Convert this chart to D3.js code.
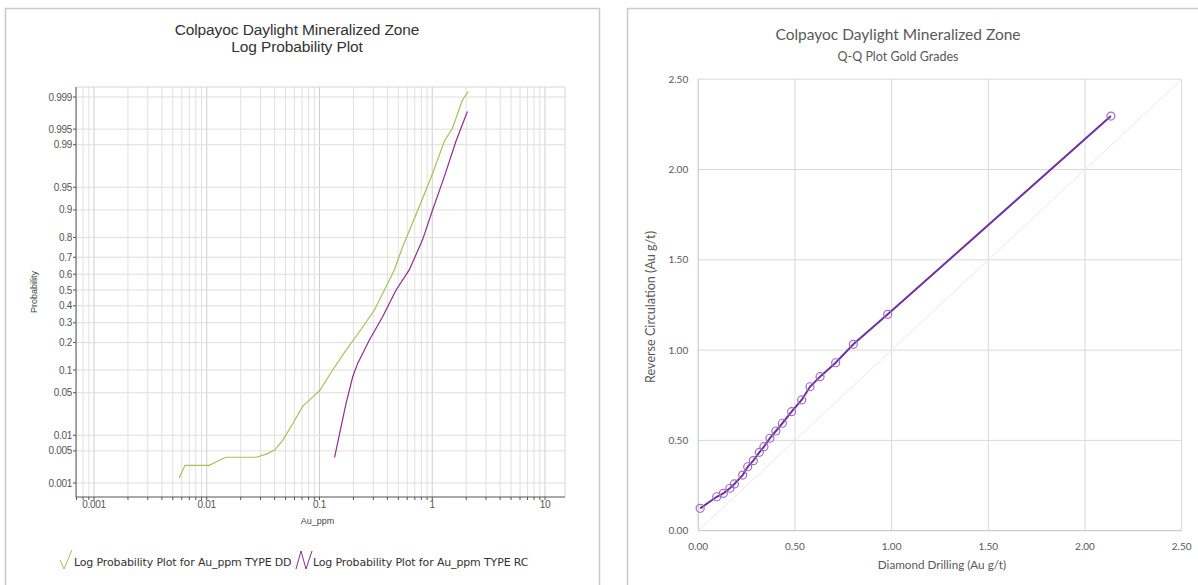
<!DOCTYPE html>
<html>
<head>
<meta charset="utf-8">
<script src="https://cdn.jsdelivr.net/npm/d3@7"></script>
<style>
  html, body { margin: 0; padding: 0; background: #fff; }
  svg { display: block; }
</style>
</head>
<body>
<svg id="chart" width="1198" height="585"></svg>
<script>
// ---------------- DATA ----------------
// Left chart: log probability plot
const ddAu   = [0.0057, 0.0064, 0.0105, 0.0126, 0.0147, 0.0275, 0.0337, 0.040, 0.0473, 0.058, 0.0711, 0.0845, 0.100, 0.131, 0.172, 0.226, 0.307, 0.389, 0.461, 0.546, 0.767, 1.007, 1.277, 1.51, 1.855, 2.09];
const ddProb = [0.0013, 0.0025, 0.0025, 0.0031, 0.0037, 0.0037, 0.0043, 0.0052, 0.0081, 0.0163, 0.0315, 0.0413, 0.0533, 0.100, 0.168, 0.252, 0.374, 0.521, 0.626, 0.756, 0.909, 0.969, 0.9913, 0.9952, 0.99884, 0.99926];
const rcAu   = [0.136, 0.172, 0.197, 0.218, 0.277, 0.363, 0.478, 0.625, 0.82, 1.007, 1.277, 1.62, 2.05];
const rcProb = [0.0037, 0.0347, 0.0824, 0.120, 0.2115, 0.334, 0.500, 0.626, 0.789, 0.900, 0.965, 0.9913, 0.99786];
const probTicks  = [0.999, 0.995, 0.99, 0.95, 0.9, 0.8, 0.7, 0.6, 0.5, 0.4, 0.3, 0.2, 0.1, 0.05, 0.01, 0.005, 0.001];
const probLabels = ["0.999", "0.995", "0.99", "0.95", "0.9", "0.8", "0.7", "0.6", "0.5", "0.4", "0.3", "0.2", "0.1", "0.05", "0.01", "0.005", "0.001"];
const auTicks  = [0.001, 0.01, 0.1, 1, 10];
const auLabels = ["0.001", "0.01", "0.1", "1", "10"];
const legendLabels = ["Log Probability Plot for Au_ppm TYPE DD", "Log Probability Plot for Au_ppm TYPE RC"];

// Right chart: Q-Q plot
const qqDD = [0.01, 0.096, 0.130, 0.164, 0.187, 0.230, 0.256, 0.285, 0.316, 0.340, 0.371, 0.402, 0.435, 0.483, 0.535, 0.578, 0.630, 0.711, 0.802, 0.980, 2.134];
const qqRC = [0.124, 0.188, 0.207, 0.235, 0.259, 0.308, 0.354, 0.388, 0.434, 0.465, 0.512, 0.552, 0.595, 0.659, 0.724, 0.797, 0.853, 0.930, 1.032, 1.198, 2.296];
const qqTicks = [0, 0.5, 1.0, 1.5, 2.0, 2.5];

// ---------------- HELPERS ----------------
// inverse standard normal CDF (Acklam)
function probit(p) {
  const a = [-3.969683028665376e+01, 2.209460984245205e+02, -2.759285104469687e+02, 1.383577518672690e+02, -3.066479806614716e+01, 2.506628277459239e+00];
  const b = [-5.447609879822406e+01, 1.615858368580409e+02, -1.556989798598866e+02, 6.680131188771972e+01, -1.328068155288572e+01];
  const c = [-7.784894002430293e-03, -3.223964580411365e-01, -2.400758277161838e+00, -2.549732539343734e+00, 4.374664141464968e+00, 2.938163982698783e+00];
  const d = [7.784695709041462e-03, 3.224671290700398e-01, 2.445134137142996e+00, 3.754408661907416e+00];
  const pl = 0.02425, ph = 1 - pl;
  let q, r;
  if (p < pl) {
    q = Math.sqrt(-2 * Math.log(p));
    return (((((c[0]*q+c[1])*q+c[2])*q+c[3])*q+c[4])*q+c[5]) / ((((d[0]*q+d[1])*q+d[2])*q+d[3])*q+1);
  } else if (p <= ph) {
    q = p - 0.5; r = q*q;
    return (((((a[0]*r+a[1])*r+a[2])*r+a[3])*r+a[4])*r+a[5])*q / (((((b[0]*r+b[1])*r+b[2])*r+b[3])*r+b[4])*r+1);
  } else {
    q = Math.sqrt(-2 * Math.log(1 - p));
    return -(((((c[0]*q+c[1])*q+c[2])*q+c[3])*q+c[4])*q+c[5]) / ((((d[0]*q+d[1])*q+d[2])*q+d[3])*q+1);
  }
}

const svg = d3.select("#chart");

// ================= LEFT PANEL =================
const leftFont = "'Liberation Sans', Arial, sans-serif";
svg.append("rect").attr("x", 5.5).attr("y", 8.5).attr("width", 594).attr("height", 600)
  .attr("fill", "#fff").attr("stroke", "#c9c9c9").attr("stroke-width", 1.5);

svg.append("text").attr("x", 297).attr("y", 35).attr("text-anchor", "middle")
  .attr("font-family", leftFont).attr("font-size", 15.5).attr("fill", "#333")
  .attr("letter-spacing", -0.1)
  .text("Colpayoc Daylight Mineralized Zone");
svg.append("text").attr("x", 297).attr("y", 52).attr("text-anchor", "middle")
  .attr("font-family", leftFont).attr("font-size", 15.5).attr("fill", "#333")
  .attr("letter-spacing", -0.1)
  .text("Log Probability Plot");

const L = { left: 76, right: 565, top: 87, bottom: 497 };
const xL = d3.scaleLog().domain([0.001, 10]).range([94, 545]);
const zScale = d3.scaleLinear().domain([probit(0.001), probit(0.999)]).range([483, 97]);
const yL = p => zScale(probit(p));

const gL = svg.append("g");

// vertical grid lines (1..9 per decade)
const minorVals = [];
[0.0001, 0.001, 0.01, 0.1, 1, 10].forEach(dec => {
  for (let k = 1; k <= 9; k++) {
    const v = dec * k;
    const px = xL(v);
    if (px > L.left + 0.5 && px < L.right - 0.5) minorVals.push(v);
  }
});
gL.selectAll("line.vgrid").data(minorVals).enter().append("line")
  .attr("x1", d => xL(d)).attr("x2", d => xL(d))
  .attr("y1", L.top).attr("y2", L.bottom)
  .attr("stroke", d => auTicks.includes(+d.toPrecision(6)) ? "#cfcfcf" : "#e1e1e1").attr("stroke-width", 1);

// horizontal grid lines
gL.selectAll("line.hgrid").data(probTicks).enter().append("line")
  .attr("x1", L.left).attr("x2", L.right)
  .attr("y1", d => yL(d)).attr("y2", d => yL(d))
  .attr("stroke", "#dedede").attr("stroke-width", 1);

// plot frame (light)
gL.append("line").attr("x1", L.left).attr("x2", L.right).attr("y1", L.top).attr("y2", L.top)
  .attr("stroke", "#d6d6d6");
gL.append("line").attr("x1", L.right).attr("x2", L.right).attr("y1", L.top).attr("y2", L.bottom)
  .attr("stroke", "#d6d6d6");

// axes lines
gL.append("line").attr("x1", L.left).attr("x2", L.left).attr("y1", L.top).attr("y2", L.bottom)
  .attr("stroke", "#555").attr("stroke-width", 1);
gL.append("line").attr("x1", L.left).attr("x2", L.right).attr("y1", L.bottom).attr("y2", L.bottom)
  .attr("stroke", "#555").attr("stroke-width", 1);

// y ticks + labels
gL.selectAll("line.ytick").data(probTicks).enter().append("line")
  .attr("x1", L.left - 3).attr("x2", L.left)
  .attr("y1", d => yL(d)).attr("y2", d => yL(d)).attr("stroke", "#555");
gL.selectAll("text.ylab").data(probTicks).enter().append("text")
  .attr("x", L.left - 4).attr("y", d => yL(d) + 3.5)
  .attr("text-anchor", "end").attr("font-family", leftFont).attr("font-size", 10)
  .attr("fill", "#555").attr("letter-spacing", -0.3)
  .text((d, i) => probLabels[i]);

// x ticks + labels
gL.selectAll("line.xtick").data(minorVals).enter().append("line")
  .attr("x1", d => xL(d)).attr("x2", d => xL(d))
  .attr("y1", L.bottom).attr("y2", L.bottom + 3).attr("stroke", "#555");
gL.selectAll("text.xlab").data(auTicks).enter().append("text")
  .attr("x", d => xL(d)).attr("y", L.bottom + 11)
  .attr("text-anchor", "middle").attr("font-family", leftFont).attr("font-size", 10)
  .attr("fill", "#555").attr("letter-spacing", -0.3)
  .text((d, i) => auLabels[i]);

// axis titles
gL.append("text").attr("x", L.left + (L.right - L.left) * 0.5 - 3).attr("y", 524)
  .attr("text-anchor", "middle").attr("font-family", leftFont).attr("font-size", 9)
  .attr("fill", "#444").text("Au_ppm");
gL.append("text").attr("transform", `translate(37,${(L.top + L.bottom) / 2}) rotate(-90)`)
  .attr("text-anchor", "middle").attr("font-family", leftFont).attr("font-size", 9)
  .attr("fill", "#444").text("Probability");

// curves
const ddColor = "#a7c254", rcColor = "#8e2d91";
const lineL = d3.line().x(d => xL(d[0])).y(d => yL(d[1]));
gL.append("path").datum(ddAu.map((v, i) => [v, ddProb[i]]))
  .attr("d", lineL).attr("fill", "none").attr("stroke", ddColor).attr("stroke-width", 1.2);
gL.append("path").datum(rcAu.map((v, i) => [v, rcProb[i]]))
  .attr("d", lineL).attr("fill", "none").attr("stroke", rcColor).attr("stroke-width", 1.2);

// legend
const legY = 566;
const legItems = [
  { x: 60, color: ddColor, label: legendLabels[0], sym: [[0, -9], [4, 0], [12, -19]] },
  { x: 296, color: rcColor, label: legendLabels[1], sym: [[0, 0], [5, -18], [10, 0], [16, -18]] }
];
legItems.forEach(it => {
  svg.append("path")
    .attr("d", d3.line()(it.sym.map(p => [it.x + p[0], legY + 3 + p[1]])))
    .attr("fill", "none").attr("stroke", it.color).attr("stroke-width", 1);
});
svg.append("text").attr("x", 74).attr("y", legY).attr("font-family", "'DejaVu Sans', Verdana, sans-serif")
  .attr("font-size", 11).attr("fill", "#333").attr("letter-spacing", -0.15).text(legendLabels[0]);
svg.append("text").attr("x", 313).attr("y", legY).attr("font-family", "'DejaVu Sans', Verdana, sans-serif")
  .attr("font-size", 11).attr("fill", "#333").attr("letter-spacing", -0.15).text(legendLabels[1]);

// ================= RIGHT PANEL =================
const rFont = "Lato, 'Open Sans', sans-serif";
svg.append("rect").attr("x", 627.5).attr("y", 8.5).attr("width", 600).attr("height", 600)
  .attr("fill", "#fff").attr("stroke", "#c9c9c9").attr("stroke-width", 1.5);

svg.append("text").attr("x", 898).attr("y", 40).attr("text-anchor", "middle")
  .attr("font-family", rFont).attr("font-size", 15.5).attr("fill", "#595959")
  .text("Colpayoc Daylight Mineralized Zone");
svg.append("text").attr("x", 898).attr("y", 61).attr("text-anchor", "middle")
  .attr("font-family", rFont).attr("font-size", 12.5).attr("fill", "#595959")
  .text("Q-Q Plot Gold Grades");

const R = { left: 698.2, right: 1181.7, top: 79.2, bottom: 530.7 };
const xR = d3.scaleLinear().domain([0, 2.5]).range([R.left, R.right]);
const yR = d3.scaleLinear().domain([0, 2.5]).range([R.bottom, R.top]);
const gR = svg.append("g");

gR.selectAll("line.rv").data(qqTicks.slice(1)).enter().append("line")
  .attr("x1", d => xR(d)).attr("x2", d => xR(d)).attr("y1", R.top).attr("y2", R.bottom)
  .attr("stroke", "#d9d9d9").attr("stroke-width", 1);
gR.selectAll("line.rh").data(qqTicks.slice(1)).enter().append("line")
  .attr("x1", R.left).attr("x2", R.right).attr("y1", d => yR(d)).attr("y2", d => yR(d))
  .attr("stroke", "#d9d9d9").attr("stroke-width", 1);
gR.append("line").attr("x1", R.left).attr("x2", R.left).attr("y1", R.top).attr("y2", R.bottom)
  .attr("stroke", "#bfbfbf");
gR.append("line").attr("x1", R.left).attr("x2", R.right).attr("y1", R.bottom).attr("y2", R.bottom)
  .attr("stroke", "#bfbfbf");

gR.selectAll("text.ry").data(qqTicks).enter().append("text")
  .attr("x", R.left - 10).attr("y", d => yR(d) + 3.5).attr("text-anchor", "end")
  .attr("font-family", rFont).attr("font-size", 10).attr("fill", "#595959")
  .text(d => d3.format(".2f")(d));
gR.selectAll("text.rx").data(qqTicks).enter().append("text")
  .attr("x", d => xR(d)).attr("y", R.bottom + 19).attr("text-anchor", "middle")
  .attr("font-family", rFont).attr("font-size", 10).attr("fill", "#595959")
  .text(d => d3.format(".2f")(d));

gR.append("text").attr("x", 942).attr("y", 569).attr("text-anchor", "middle")
  .attr("font-family", rFont).attr("font-size", 11.7).attr("fill", "#595959")
  .text("Diamond Drilling (Au g/t)");
gR.append("text").attr("transform", `translate(655,${(R.top + R.bottom) / 2 + 2}) rotate(-90)`)
  .attr("text-anchor", "middle").attr("font-family", rFont).attr("font-size", 12.6).attr("fill", "#595959")
  .text("Reverse Circulation (Au g/t)");

// 1:1 reference line
gR.append("line").attr("x1", xR(0)).attr("y1", yR(0)).attr("x2", xR(2.5)).attr("y2", yR(2.5))
  .attr("stroke", "#ece6ec").attr("stroke-width", 1);

const qqPts = qqDD.map((v, i) => [v, qqRC[i]]);
gR.append("path").datum(qqPts)
  .attr("d", d3.line().x(d => xR(d[0])).y(d => yR(d[1])))
  .attr("fill", "none").attr("stroke", "#7030a0").attr("stroke-width", 2);
gR.selectAll("circle.pt").data(qqPts).enter().append("circle")
  .attr("cx", d => xR(d[0])).attr("cy", d => yR(d[1])).attr("r", 4)
  .attr("fill", "none").attr("stroke", "#9b6fc8").attr("stroke-width", 1.2);
</script>
</body>
</html>
